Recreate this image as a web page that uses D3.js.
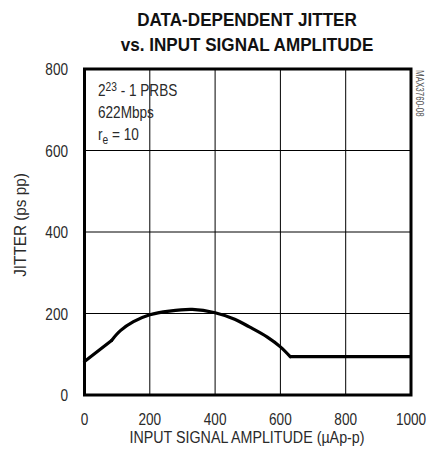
<!DOCTYPE html>
<html>
<head>
<meta charset="utf-8">
<script src="https://cdn.jsdelivr.net/npm/d3@7"></script>
<style>
  body { margin: 0; background: #fff; }
  text { font-family: "Liberation Sans", Arial, sans-serif; fill: #2a2a2a; }
</style>
</head>
<body>
<div id="chart"></div>
<script>
// curve
var amplitude = [0, 83, 110, 150, 200, 260, 330, 400, 460, 505, 560, 600, 630, 1000];
var jitter = [82, 134, 158, 180, 197, 206, 210, 202, 186, 167, 142, 118, 94, 94];
var xTicks = [0, 200, 400, 600, 800, 1000];
var yTicks = [0, 200, 400, 600, 800];

var width = 429;
var height = 457;
var margin = { left: 84.5, right: 18, top: 69, bottom: 62 };

var svg = d3.select("#chart").append("svg")
  .attr("width", width)
  .attr("height", height);

var xScale = d3.scaleLinear().domain([0, 1000]).range([margin.left, width - margin.right]);
var yScale = d3.scaleLinear().domain([0, 800]).range([height - margin.bottom, margin.top]);

// text squeezed horizontally to look like a narrow face
function label(x, y, str, size, anchor, squeeze) {
  return svg.append("text")
    .attr("transform", `translate(${x}, ${y}) scale(${squeeze || 0.8}, 1)`)
    .attr("text-anchor", anchor || "start")
    .style("font-size", size + "px")
    .text(str);
}

/* title */
label(247, 26, "DATA-DEPENDENT JITTER", 18, "middle", 0.95)
  .style("font-weight", "bold").style("fill", "#111");
label(247, 51, "vs. INPUT SIGNAL AMPLITUDE", 18, "middle", 0.95)
  .style("font-weight", "bold").style("fill", "#111");

/* grid */
svg.append("g")
  .selectAll("line")
  .data(xTicks.slice(1, -1)).enter()
  .append("line")
  .attr("x1", d => xScale(d)).attr("x2", d => xScale(d))
  .attr("y1", yScale(800)).attr("y2", yScale(0))
  .style("stroke", "#000").style("stroke-width", 1);
svg.append("g")
  .selectAll("line")
  .data(yTicks.slice(1, -1)).enter()
  .append("line")
  .attr("x1", xScale(0)).attr("x2", xScale(1000))
  .attr("y1", d => yScale(d)).attr("y2", d => yScale(d))
  .style("stroke", "#000").style("stroke-width", 1);

/* frame */
svg.append("rect")
  .attr("x", xScale(0)).attr("y", yScale(800))
  .attr("width", xScale(1000) - xScale(0))
  .attr("height", yScale(0) - yScale(800))
  .style("fill", "none").style("stroke", "#000").style("stroke-width", 3);

/* tick labels */
xTicks.forEach(d => label(xScale(d), yScale(0) + 30, d, 17, "middle"));
yTicks.forEach(d => label(68, yScale(d) + 6, d, 17, "end"));

/* axis titles */
label(247, 443, "INPUT SIGNAL AMPLITUDE (\u00b5Ap-p)", 17, "middle", 0.84);
svg.append("text")
  .attr("transform", "translate(26, 225) rotate(-90) scale(0.9, 1)")
  .attr("text-anchor", "middle")
  .style("font-size", "17px")
  .text("JITTER (ps pp)");

/* annotation */
var l1 = label(98, 96, "", 16, "start", 0.85);
l1.append("tspan").text("2");
l1.append("tspan").attr("dy", -5).style("font-size", "12px").text("23");
l1.append("tspan").attr("dy", 5).text(" - 1 PRBS");
label(98, 118, "622Mbps", 16, "start", 0.85);
var l3 = label(98, 140, "", 16, "start", 0.85);
l3.append("tspan").text("r");
l3.append("tspan").attr("dy", 4).style("font-size", "12px").text("e");
l3.append("tspan").attr("dy", -4).text(" = 10");

svg.append("text")
  .attr("transform", "translate(416, 70) rotate(90) scale(0.8, 1)")
  .style("font-size", "10px").style("fill", "#555")
  .text("MAX3760-08");

/* curve */
var pts = amplitude.map((a, i) => [a, jitter[i]]);
var curve = d3.line()
  .x(d => xScale(d[0]))
  .y(d => yScale(d[1]))
  .curve(d3.curveCatmullRom);
var straight = d3.line()
  .x(d => xScale(d[0]))
  .y(d => yScale(d[1]));

svg.append("path")
  .attr("d", straight(pts.slice(0, 2)))
  .style("fill", "none").style("stroke", "#000").style("stroke-width", 3.2).style("stroke-linecap", "round");
svg.append("path")
  .attr("d", curve(pts.slice(1, 13)))
  .style("fill", "none").style("stroke", "#000").style("stroke-width", 3.2).style("stroke-linecap", "round");
svg.append("path")
  .attr("d", straight(pts.slice(12)))
  .style("fill", "none").style("stroke", "#000").style("stroke-width", 3.2).style("stroke-linejoin", "round");
</script>
</body>
</html>
